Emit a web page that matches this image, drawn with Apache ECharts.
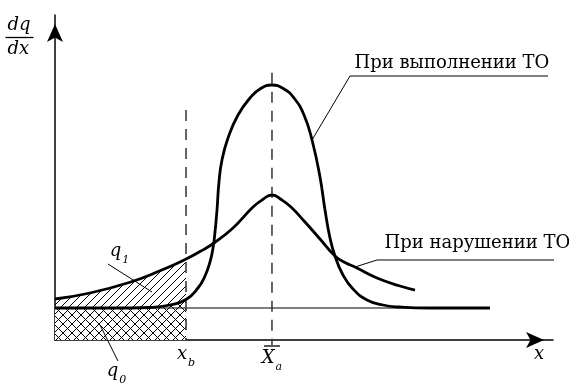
<!DOCTYPE html>
<html>
<head>
<meta charset="utf-8">
<script src="https://cdn.jsdelivr.net/npm/echarts@6/dist/echarts.min.js"></script>
<style>
html, body { margin: 0; padding: 0; background: #fff; }
#chart { width: 569px; height: 383px; }
</style>
</head>
<body>
<div id="chart"></div>
<script>
// условные единицы: x 0..100, dq/dx 0..100
// кривая при выполнении ТО
var withTO = [
    [0, 9.85], [15.06, 9.85], [19.08, 10.0], [23.09, 10.77], [26.31, 12.46],
    [28.71, 16.0], [30.12, 19.69], [31.12, 24.0], [31.73, 28.31], [32.13, 33.23],
    [32.53, 40.0], [32.93, 48.62], [33.53, 55.38], [34.74, 62.15], [36.75, 69.23],
    [39.16, 74.46], [41.16, 77.23], [43.57, 78.46], [45.98, 77.23], [47.99, 74.46],
    [50.0, 69.23], [51.61, 61.54], [53.21, 50.15], [54.22, 40.0], [55.22, 31.38],
    [56.22, 25.85], [57.83, 20.0], [59.84, 15.69], [62.65, 12.31], [65.86, 10.77],
    [69.28, 10.15], [75.3, 9.85], [87.35, 9.85]
];
// кривая при нарушении ТО
var withoutTO = [
    [0, 12.62], [7.03, 14.46], [15.06, 17.78], [21.08, 21.29], [26.31, 24.92],
    [29.12, 27.23], [31.93, 29.85], [35.74, 34.46], [39.76, 40.92], [41.57, 43.08],
    [43.57, 44.62], [45.58, 43.08], [47.39, 40.92], [50.2, 36.31], [53.21, 31.08],
    [56.22, 25.85], [58.23, 23.85], [60.24, 22.46], [64.66, 19.08], [69.28, 16.62],
    [72.29, 15.38]
];
// уровень q0
var baseLevel = [[0, 9.85], [87.35, 9.85]];
var xB = 26.31;
var xA = 43.57;
// подписи оси x
var tickValues = [xB, xA, 97.2];
var tickLabels = ['{i|x}{s|b}', '{ov|x}\n{i|X}{s|a}', '{i|x}'];
// подпись оси y
var yName = '{n|dq}\n{bar|x}\n{n|dx}';
// выноски: точка на кривой, излом, конец
var noteUp = [[51.61, 61.54], [59.24, 81.23], [98.99, 81.23]];
var noteDown = [[60.24, 22.46], [64.66, 24.62], [102.81, 24.62]];
var noteQ1 = [[10.64, 23.38], [19.48, 14.77]];
var noteQ0 = [[9.04, 4.62], [12.65, -6.46]];

//штриховка
function hatch(size, cross) {
    var c = document.createElement('canvas');
    c.width = c.height = size;
    var g = c.getContext('2d');
    g.fillStyle = cross ? '#fff' : 'rgba(255,255,255,0)';
    g.fillRect(0, 0, size, size);
    g.strokeStyle = '#000';
    g.lineWidth = 1;
    g.beginPath();
    g.moveTo(-1, size + 1); g.lineTo(size + 1, -1);
    g.moveTo(-2, 2); g.lineTo(2, -2);
    g.moveTo(size - 2, size + 2); g.lineTo(size + 2, size - 2);
    if (cross) {
        g.moveTo(-1, -1); g.lineTo(size + 1, size + 1);
        g.moveTo(size - 2, -2); g.lineTo(size + 2, 2);
        g.moveTo(-2, size - 2); g.lineTo(2, size + 2);
    }
    g.stroke();
    return c;
}

function upTo(data, x) {
    return data.filter(function (p) { return p[0] <= x; });
}

var serif = 'DejaVu Serif';
var mathRich = {
    i: { fontFamily: serif, fontStyle: 'italic', fontSize: 18, color: '#000', lineHeight: 20 },
    s: { fontFamily: serif, fontStyle: 'italic', fontSize: 11, color: '#000', lineHeight: 20, padding: [18, 0, 0, 1] },
    //черта над X
    ov: { width: 15, height: 1.3, lineHeight: 4, fontSize: 2, color: 'rgba(0,0,0,0)', backgroundColor: '#000', padding: [0, 0, 0, 1] },
    //дробная черта
    n: { fontFamily: serif, fontStyle: 'italic', fontSize: 18, color: '#000', lineHeight: 20, padding: [0, 0, 0, 2] },
    bar: { width: 27, height: 1.3, lineHeight: 4, fontSize: 2, color: 'rgba(0,0,0,0)', backgroundColor: '#000', padding: [0, 0, 0, 1] }
};

function leader(data, labelIndex, text, pos, align) {
    return {
        type: 'line',
        data: data.map(function (p, i) {
            var item = { value: p };
            if (i === labelIndex) {
                item.label = {
                    show: true,
                    formatter: text,
                    position: pos,
                    align: align || 'left',
                    verticalAlign: 'middle',
                    color: '#000',
                    fontFamily: serif,
                    fontSize: 18,
                    rich: mathRich
                };
            }
            return item;
        }),
        symbol: 'circle',
        symbolSize: 1,
        showSymbol: true,
        itemStyle: { color: 'rgba(0,0,0,0)' },
        lineStyle: { color: '#000', width: data.length > 1 ? 1 : 0 },
        clip: false,
        silent: true,
        z: 6
    };
}

function curve(name, data) {
    return {
        name: name,
        type: 'line',
        data: data,
        smooth: 0.5,
        symbol: 'none',
        lineStyle: { color: '#000', width: 2.8 },
        z: 5
    };
}

function area(data, pattern, z) {
    return {
        type: 'line',
        data: upTo(data, xB),
        smooth: 0.5,
        symbol: 'none',
        lineStyle: { width: 0 },
        areaStyle: { color: { image: pattern, repeat: 'repeat' }, opacity: 1 },
        silent: true,
        z: z
    };
}

function dashed(x, top, bottom) {
    return {
        type: 'line',
        data: [[x, top], [x, bottom]],
        symbol: 'none',
        lineStyle: { color: '#333', width: 1.5, type: [11, 8] },
        clip: false,
        silent: true,
        z: 3
    };
}

var axisLine = {
    onZero: false,
    symbol: ['none', 'arrow'],
    symbolSize: [12, 18],
    symbolOffset: [0, -9],
    lineStyle: { color: '#000', width: 1.5 }
};

var chart = echarts.init(document.getElementById('chart'));
chart.setOption({
    animation: false,
    backgroundColor: '#fff',
    grid: { left: 55, right: 16, top: 15, bottom: 43 },
    xAxis: {
        type: 'value',
        min: 0,
        max: 100,
        axisLine: axisLine,
        axisTick: { show: false },
        splitLine: { show: false },
        axisLabel: {
            customValues: tickValues,
            margin: 4,
            formatter: function (v) {
                return tickLabels[tickValues.indexOf(v)];
            },
            rich: mathRich
        }
    },
    yAxis: {
        type: 'value',
        min: 0,
        max: 100,
        axisLine: axisLine,
        axisTick: { show: false },
        splitLine: { show: false },
        axisLabel: { show: false }
    },
    series: [
        area(withoutTO, hatch(8, false), 1),
        area(withTO, hatch(9, true), 2),
        {
            type: 'line',
            data: baseLevel,
            symbol: 'none',
            lineStyle: { color: '#000', width: 1.2 },
            silent: true,
            z: 3
        },
        dashed(xB, 70.8, 0),
        dashed(xA, 82.2, -1.5),
        curve('При выполнении ТО', withTO),
        curve('При нарушении ТО', withoutTO),
        leader(noteUp, 1, 'При выполнении ТО', [5, -12]),
        leader(noteDown, 1, 'При нарушении ТО', [8, -16]),
        leader(noteQ1, 0, '{i|q}{s|1}', [12, -12], 'center'),
        leader(noteQ0, 1, '{i|q}{s|0}', [-1, 11], 'center'),
        // dq/dx у верхнего конца оси y
        leader([[0, 100]], 0, yName, [-49, 23])
    ]
});
</script>
</body>
</html>
